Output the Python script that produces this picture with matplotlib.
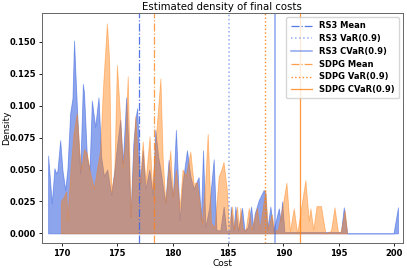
"""
Estimated density of final costs: RS3 vs SDPG
"""
import numpy as np
import matplotlib.pyplot as plt

# RS3 density curve (cost, density)
rs3_cost = [168.76, 168.76, 169.09, 169.33, 169.48, 169.6, 169.85, 170.05, 170.3, 170.5,
            170.75, 170.96, 171.1, 171.25, 171.41, 171.65, 171.9, 172.0, 172.26, 172.5,
            172.71, 173.01, 173.31, 173.55, 173.8, 174.1, 174.45, 174.75, 175.0, 175.27,
            175.5, 175.81, 176.0, 176.2, 176.45, 176.65, 176.8, 177.08, 177.3, 177.55,
            177.9, 178.2, 178.44, 178.7, 178.9, 179.34, 179.64, 179.85, 180.03, 180.3,
            180.64, 180.9, 181.3, 181.6, 181.9, 182.35, 182.55, 182.75, 182.96, 183.3,
            183.71, 183.95, 184.3, 184.61, 184.85, 185.2, 185.25, 185.5, 185.67, 185.9,
            186.27, 186.5, 186.8, 187.09, 187.3, 187.4, 187.78, 188.23, 188.38, 188.55,
            188.83, 189.1, 189.59, 189.75, 189.89, 190.1, 195.2, 195.46, 195.77, 199.95,
            200.35, 200.35]
rs3_dens = [0.0, 0.061, 0.0235, 0.051, 0.047, 0.049, 0.073, 0.05, 0.034, 0.05,
            0.094, 0.106, 0.151, 0.12, 0.089, 0.047, 0.117, 0.11, 0.060, 0.0496,
            0.104, 0.0835, 0.1065, 0.06, 0.045, 0.05, 0.03, 0.05, 0.07, 0.089,
            0.055, 0.1065, 0.07, 0.013, 0.07, 0.09, 0.098, 0.039, 0.065, 0.035,
            0.05, 0.03, 0.081, 0.06, 0.05, 0.024, 0.0575, 0.04, 0.029, 0.081,
            0.0105, 0.04, 0.065, 0.045, 0.035, 0.044, 0.01, 0.065, 0.005, 0.02,
            0.058, 0.003, 0.002, 0.021, 0.002, 0.002, 0.021, 0.002, 0.021, 0.002,
            0.020, 0.002, 0.005, 0.021, 0.003, 0.015, 0.026, 0.034, 0.031, 0.003,
            0.021, 0.002, 0.0196, 0.01, 0.025, 0.001, 0.001, 0.0204, 0.0, 0.0,
            0.0204, 0.0]

# SDPG density curve (cost, density)
sdpg_cost = [169.91, 169.91, 170.2, 170.4, 170.5, 170.8, 171.05, 171.35, 171.6, 171.75,
             172.0, 172.26, 172.56, 172.9, 173.2, 173.46, 173.7, 174.07, 174.27, 174.46,
             174.73, 174.97, 175.27, 175.5, 175.7, 175.95, 176.2, 176.45, 176.63, 176.85,
             177.05, 177.3, 177.55, 177.92, 178.15, 178.44, 178.9, 179.1, 179.34, 179.79,
             180.03, 180.3, 180.64, 180.9, 181.2, 181.6, 181.9, 182.2, 182.5, 182.65,
             182.95, 183.17, 183.47, 183.8, 184.16, 184.4, 184.6, 184.9, 185.07, 185.37,
             185.55, 185.82, 186.0, 186.12, 186.35, 186.6, 186.88, 187.1, 187.63, 187.85,
             188.38, 188.6, 188.95, 189.2, 189.5, 189.9, 190.28, 190.6, 190.94, 191.25,
             191.99, 192.3, 192.45, 192.7, 193.0, 193.4, 193.8, 194.3, 194.62, 194.95,
             195.2, 195.55, 195.75]
sdpg_dens = [0.0, 0.025, 0.029, 0.033, 0.0105, 0.052, 0.078, 0.094, 0.0626, 0.05,
             0.066, 0.0626, 0.047, 0.0353, 0.052, 0.065, 0.112, 0.1645, 0.136, 0.033,
             0.047, 0.132, 0.090, 0.052, 0.07, 0.123, 0.013, 0.06, 0.092, 0.06,
             0.039, 0.072, 0.04, 0.076, 0.035, 0.07, 0.1214, 0.06, 0.024, 0.065,
             0.029, 0.05, 0.02, 0.05, 0.045, 0.064, 0.039, 0.04, 0.02, 0.008,
             0.04, 0.078, 0.008, 0.005, 0.0444, 0.05, 0.056, 0.034, 0.005, 0.021,
             0.003, 0.021, 0.003, 0.02, 0.003, 0.003, 0.02, 0.003, 0.02, 0.003,
             0.034, 0.003, 0.015, 0.002, 0.003, 0.02, 0.0397, 0.002, 0.0196, 0.0,
             0.0417, 0.01, 0.0196, 0.003, 0.0214, 0.0214, 0.0, 0.002, 0.0204, 0.0,
             0.002, 0.018, 0.0]

# risk statistics
rs3_mean, rs3_var, rs3_cvar = 176.93, 185.13, 189.29
sdpg_mean, sdpg_var, sdpg_cvar = 178.34, 188.32, 191.55

blue = 'royalblue'
orange = 'tab:orange'

fig, ax = plt.subplots(figsize=(4.07, 2.68), dpi=100)
fig.subplots_adjust(left=0.103, right=0.990, top=0.951, bottom=0.093)

ax.fill_between(rs3_cost, rs3_dens, color=blue, alpha=0.6, lw=0.6)
ax.fill_between(sdpg_cost, sdpg_dens, color=orange, alpha=0.45, lw=0.6)

ax.axvline(rs3_mean, color=blue, ls='-.', lw=0.9, alpha=0.9, label='RS3 Mean')
ax.axvline(rs3_var, color=blue, ls=':', lw=1.1, alpha=0.55, label='RS3 VaR(0.9)')
ax.axvline(rs3_cvar, color=blue, ls='-', lw=1.1, alpha=0.6, label='RS3 CVaR(0.9)')
ax.axvline(sdpg_mean, color=orange, ls='-.', lw=0.9, alpha=0.75, label='SDPG Mean')
ax.axvline(sdpg_var, color=orange, ls=':', lw=1.0, alpha=0.9, label='SDPG VaR(0.9)')
ax.axvline(sdpg_cvar, color=orange, ls='-', lw=0.9, alpha=0.8, label='SDPG CVaR(0.9)')

ax.set_xlim(168.2, 200.8)
ax.set_ylim(-0.0076, 0.1725)
ax.set_xticks([170, 175, 180, 185, 190, 195, 200])
ax.set_yticks([0.0, 0.025, 0.05, 0.075, 0.1, 0.125, 0.15])
ax.tick_params(labelsize=6.0, length=2, width=0.6, pad=2)
for lab in ax.get_xticklabels() + ax.get_yticklabels():
    lab.set_fontweight('bold')
for sp in ax.spines.values():
    sp.set_color('#666666')
    sp.set_linewidth(0.7)

ax.set_title('Estimated density of final costs', fontsize=7.3, pad=2)
ax.set_xlabel('Cost', fontsize=6.5, labelpad=1)
ax.set_ylabel('Density', fontsize=6.5)
ax.yaxis.set_label_coords(-0.084, 0.5)

ax.legend(loc='upper right', prop={'size': 6.0, 'weight': 'bold'},
          handlelength=2.6, labelspacing=0.45, borderpad=0.5)

plt.savefig('out.png', dpi=100)
